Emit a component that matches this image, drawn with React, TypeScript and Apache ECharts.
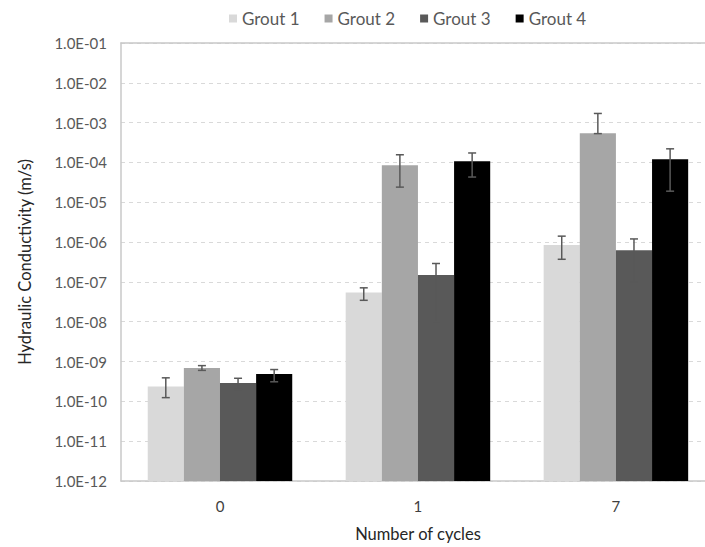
import React, { useEffect, useRef } from "react";
import * as echarts from "echarts";

const categories = ["0", "1", "7"];
const seriesNames = ["Grout 1", "Grout 2", "Grout 3", "Grout 4"];
const colors = ["#d9d9d9", "#a6a6a6", "#595959", "#000000"];
const grout1 = [2.35e-10, 5.4e-8, 8.5e-7];
const grout2 = [6.9e-10, 8.5e-5, 5.4e-4];
const grout3 = [2.9e-10, 1.5e-7, 6.2e-7];
const grout4 = [4.9e-10, 1.07e-4, 1.2e-4];
const errLow1 = [1.24e-10, 3.45e-8, 3.7e-7];
const errHigh1 = [3.9e-10, 7.1e-8, 1.41e-6];
const errLow2 = [6.0e-10, 2.4e-5, 5.3e-4];
const errHigh2 = [7.9e-10, 1.56e-4, 1.7e-3];
const errLow3 = [2.0e-10, 1.0e-8, 1.0e-7];
const errHigh3 = [3.8e-10, 2.9e-7, 1.2e-6];
const errLow4 = [3.1e-10, 4.3e-5, 1.9e-5];
const errHigh4 = [6.3e-10, 1.73e-4, 2.2e-4];
const yMin = 1e-12;
const yMax = 1e-1;

const values = [grout1, grout2, grout3, grout4];
const lows = [errLow1, errLow2, errLow3, errLow4];
const highs = [errHigh1, errHigh2, errHigh3, errHigh4];

const CAT_GAP = 0.27;
const FONT = "Lato, 'Open Sans', sans-serif";
// the plot area runs past the right edge of the picture: visible x range in category units
const X_MIN = -0.5;
const X_MAX = 2.45;

export default function App() {
  const ref = useRef<HTMLDivElement>(null);
  useEffect(() => {
    if (!ref.current) return;
    const chart = echarts.init(ref.current, null, { renderer: "svg" });
    const barX = (api: any, c: number, i: number) => {
      const center = api.coord([c, yMin])[0];
      const bandW = api.size([1, 0])[0];
      const groupW = bandW * (1 - CAT_GAP);
      const bw = groupW / 4;
      return { left: center - groupW / 2 + bw * i, bw };
    };
    const barSeries = seriesNames.map((name, i) => ({
      name,
      type: "custom",
      z: 2,
      itemStyle: { color: colors[i] },
      data: categories.map((_, c) => [c, values[i][c]]),
      encode: { x: 0, y: 1 },
      renderItem: (params: any, api: any) => {
        const c = api.value(0);
        const top = api.coord([c, api.value(1)])[1];
        const base = api.coord([c, yMin])[1];
        const { left, bw } = barX(api, c, i);
        return {
          type: "rect",
          shape: { x: left, y: top, width: bw, height: base - top },
          style: { fill: colors[i] },
        };
      },
    }));
    const errSeries = seriesNames.map((name, i) => ({
      name: name + " err",
      type: "custom",
      z: 10,
      data: categories.map((_, c) => [c, lows[i][c], highs[i][c]]),
      renderItem: (params: any, api: any) => {
        const c = api.value(0);
        const lo = api.coord([c, api.value(1)])[1];
        const hi = api.coord([c, api.value(2)])[1];
        const { left, bw } = barX(api, c, i);
        const x = left + bw / 2;
        const cap = 4;
        const style = { stroke: "#595959", lineWidth: 1.5 };
        return {
          type: "group",
          children: [
            { type: "line", shape: { x1: x, y1: lo, x2: x, y2: hi }, style },
            { type: "line", shape: { x1: x - cap, y1: hi, x2: x + cap, y2: hi }, style },
            { type: "line", shape: { x1: x - cap, y1: lo, x2: x + cap, y2: lo }, style },
          ],
        };
      },
      encode: { x: 0, y: [1, 2] },
      silent: true,
    }));
    chart.setOption({
      animation: false,
      backgroundColor: "#ffffff",
      textStyle: { fontFamily: FONT },
      legend: {
        data: seriesNames.map((n, i) => ({ name: n, itemStyle: { color: colors[i] } })),
        left: 224,
        top: 5,
        padding: 5,
        itemWidth: 8,
        itemHeight: 8,
        itemGap: 25,
        icon: "rect",
        textStyle: { color: "#595959", fontSize: 17, fontFamily: FONT },
      },
      grid: { left: 121, top: 43, right: 0, height: 443, show: false },
      xAxis: [
        {
          type: "value",
          min: X_MIN,
          max: X_MAX,
          splitLine: { show: false },
          axisTick: { show: false },
          axisLine: { onZero: false, lineStyle: { color: "#c8c8c8", width: 1.5 } },
          axisLabel: {
            color: "#404040",
            fontSize: 15,
            margin: 17,
            fontFamily: FONT,
            customValues: categories.map((_, c) => c),
            formatter: (v: number) => categories[Math.round(v)] ?? "",
          },
          name: "Number of cycles",
          nameLocation: "middle",
          nameGap: 44,
          nameTextStyle: { color: "#262626", fontSize: 16.5, fontFamily: FONT, padding: [0, 0, 0, 10] },
        },
        {
          type: "value",
          min: X_MIN,
          max: X_MAX,
          position: "top",
          splitLine: { show: false },
          axisTick: { show: false },
          axisLabel: { show: false },
          axisLine: { show: true, onZero: false, lineStyle: { color: "#c8c8c8", width: 1.5 } },
        },
      ],
      yAxis: {
        type: "log",
        logBase: 10,
        min: yMin,
        max: yMax,
        interval: 1,
        axisLine: { show: true, onZero: false, lineStyle: { color: "#c8c8c8", width: 1.5 } },
        axisTick: { show: false },
        splitLine: { show: true, lineStyle: { color: "#d9d9d9", type: [4, 4] } },
        axisLabel: {
          color: "#595959",
          fontSize: 15,
          margin: 14,
          fontFamily: FONT,
          formatter: (v: number) => {
            const e = Math.round(Math.log10(v));
            const s = Math.abs(e).toString().padStart(2, "0");
            return "1.0E" + (e < 0 ? "-" : "+") + s;
          },
        },
        name: "Hydraulic Conductivity (m/s)",
        nameLocation: "middle",
        nameGap: 88,
        nameTextStyle: { color: "#262626", fontSize: 16.5, fontFamily: FONT },
      },
      series: [...barSeries, ...errSeries],
    });
    return () => chart.dispose();
  }, []);
  return (
    <div style={{ position: "fixed", left: 0, top: 0, width: 705, height: 547, overflow: "hidden", background: "#fff" }}>
      <div ref={ref} style={{ width: 705, height: 547 }} />
    </div>
  );
}
